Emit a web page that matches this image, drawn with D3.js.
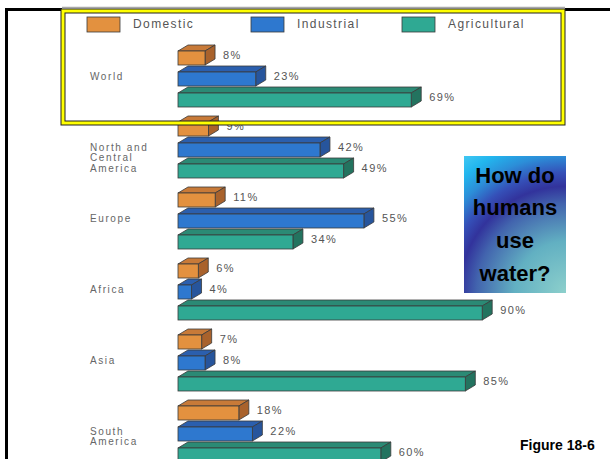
<!DOCTYPE html>
<html>
<head>
<meta charset="utf-8">
<script src="https://cdn.jsdelivr.net/npm/d3@7"></script>
<style>
  html, body { margin: 0; padding: 0; background: #fff; }
  svg { display: block; }
</style>
</head>
<body>
<svg id="chart" width="610" height="459"></svg>
<script>
// Water withdrawals by use, percent of each region's total
const regions = ["World", "North and Central America", "Europe", "Africa", "Asia", "South America"];
const regionLines = [["World"], ["North and", "Central", "America"], ["Europe"], ["Africa"], ["Asia"], ["South", "America"]];
const uses = ["Domestic", "Industrial", "Agricultural"];
const domestic = [8, 9, 11, 6, 7, 18];
const industrial = [23, 42, 55, 4, 8, 22];
const agricultural = [69, 49, 34, 90, 85, 60];
const questionLines = ["How do", "humans", "use", "water?"];
const figureLabel = "Figure 18-6";

const seriesValues = [domestic, industrial, agricultural];

// face colours per use: front, top, side
const faceColors = {
  Domestic:     { front: "#e3913f", top: "#c87a38", side: "#a9622c" },
  Industrial:   { front: "#2e78cf", top: "#2b5fae", side: "#27559c" },
  Agricultural: { front: "#2fa993", top: "#2b8a75", side: "#23735f" }
};

const svg = d3.select("#chart");
const W = 610, H = 459;

svg.append("rect").attr("width", W).attr("height", H).attr("fill", "#fff");

// outer slide frame
svg.append("path")
  .attr("d", `M6.5,${H} V9.5 H${W}`)
  .attr("fill", "none").attr("stroke", "#000").attr("stroke-width", 3);

// page area of the figure
svg.append("rect")
  .attr("x", 62).attr("y", 7).attr("width", 503).attr("height", H - 7)
  .attr("fill", "#fff");
svg.append("line")
  .attr("x1", 62).attr("x2", 565).attr("y1", 7.5).attr("y2", 7.5)
  .attr("stroke", "#a8a8a8").attr("stroke-width", 1.5);

// scales
const x = d3.scaleLinear().domain([0, 100]).range([178, 516]);
const yGroup = d3.scaleBand().domain(regions).range([45, 45 + 71 * regions.length]);
const yUse = d3.scaleBand().domain(uses).range([0, 63]);

const depthX = 10, depthY = 6, frontH = 14;
const textFont = "'Liberation Sans', Arial, sans-serif";

const bars = [];
regions.forEach((r, i) => {
  uses.forEach((u, j) => {
    bars.push({ region: r, use: u, value: seriesValues[j][i] });
  });
});

const barG = svg.append("g");
const box = barG.selectAll("g.box").data(bars).join("g").attr("class", "box");

box.each(function (d) {
  const g = d3.select(this);
  const y0 = yGroup(d.region) + yUse(d.use);
  const x0 = x(0), x1 = x(d.value);
  const yf = y0 + depthY;
  const c = faceColors[d.use];
  const sw = 0.8, sc = "#3a3a3a";

  g.append("polygon")
    .attr("points", [[x0, yf], [x0 + depthX, y0], [x1 + depthX, y0], [x1, yf]].join(" "))
    .attr("fill", c.top).attr("stroke", sc).attr("stroke-width", sw).attr("stroke-linejoin", "round");
  g.append("polygon")
    .attr("points", [[x1, yf], [x1 + depthX, y0], [x1 + depthX, y0 + frontH], [x1, yf + frontH]].join(" "))
    .attr("fill", c.side).attr("stroke", sc).attr("stroke-width", sw).attr("stroke-linejoin", "round");
  g.append("rect")
    .attr("x", x0).attr("y", yf).attr("width", x1 - x0).attr("height", frontH)
    .attr("fill", c.front).attr("stroke", sc).attr("stroke-width", sw);

  g.append("text")
    .attr("x", x1 + depthX + 8)
    .attr("y", y0 + (depthY + frontH) / 2)
    .attr("dy", "0.35em")
    .attr("font-family", textFont).attr("font-size", 11)
    .attr("letter-spacing", 1.4)
    .attr("fill", "#555")
    .text(d.value + "%");
});

// region names, first line level with the industrial bar
const labelG = svg.append("g");
regions.forEach((r, i) => {
  const yc = yGroup(r) + yUse("Industrial") + (depthY + frontH) / 2;
  regionLines[i].forEach((line, k) => {
    labelG.append("text")
      .attr("x", 90).attr("y", yc + k * 10.5).attr("dy", "0.35em")
      .attr("font-family", textFont).attr("font-size", 10)
      .attr("letter-spacing", 1.6).attr("fill", "#666")
      .text(line);
  });
});

// legend
const legendX = d3.scaleOrdinal().domain(uses).range([87, 251, 402]);
const legend = svg.append("g");
uses.forEach(u => {
  legend.append("rect")
    .attr("x", legendX(u)).attr("y", 17).attr("width", 33).attr("height", 15)
    .attr("fill", faceColors[u].front).attr("stroke", "#3a3a3a").attr("stroke-width", 0.8);
  legend.append("text")
    .attr("x", legendX(u) + 46).attr("y", 24).attr("dy", "0.35em")
    .attr("font-family", textFont).attr("font-size", 12)
    .attr("letter-spacing", 1.4).attr("fill", "#555")
    .text(u);
});

// highlight frame round the legend and the world bars
svg.append("rect")
  .attr("x", 63).attr("y", 11).attr("width", 500).attr("height", 112)
  .attr("fill", "none").attr("stroke", "#222").attr("stroke-width", 5);
svg.append("rect")
  .attr("x", 63).attr("y", 11).attr("width", 500).attr("height", 112)
  .attr("fill", "none").attr("stroke", "#ffff00").attr("stroke-width", 3);

// question panel
const defs = svg.append("defs");
const grad = defs.append("radialGradient")
  .attr("id", "qgrad").attr("gradientUnits", "userSpaceOnUse")
  .attr("cx", 566).attr("cy", 293).attr("r", 172);
[
  [0, "#8dd0cc"], [0.3, "#62b0c2"], [0.52, "#4264ae"], [0.62, "#32339c"],
  [0.7, "#3550b8"], [0.8, "#2c8ed8"], [0.9, "#22b6ee"], [1, "#44c9f3"]
].forEach(([o, c]) => grad.append("stop").attr("offset", o).attr("stop-color", c));

svg.append("rect")
  .attr("x", 464).attr("y", 156).attr("width", 102).attr("height", 137)
  .attr("fill", "url(#qgrad)");

const qY = d3.scalePoint().domain(questionLines).range([175, 273]);
svg.append("g").selectAll("text").data(questionLines).join("text")
  .attr("x", 515).attr("y", d => qY(d)).attr("dy", "0.35em")
  .attr("text-anchor", "middle")
  .attr("font-family", textFont).attr("font-weight", "bold").attr("font-size", 22)
  .attr("fill", "#000")
  .text(d => d);

svg.append("text")
  .attr("x", 520).attr("y", 445).attr("dy", "0.35em")
  .attr("font-family", textFont).attr("font-weight", "bold").attr("font-size", 14)
  .attr("fill", "#000")
  .text(figureLabel);
</script>
</body>
</html>
